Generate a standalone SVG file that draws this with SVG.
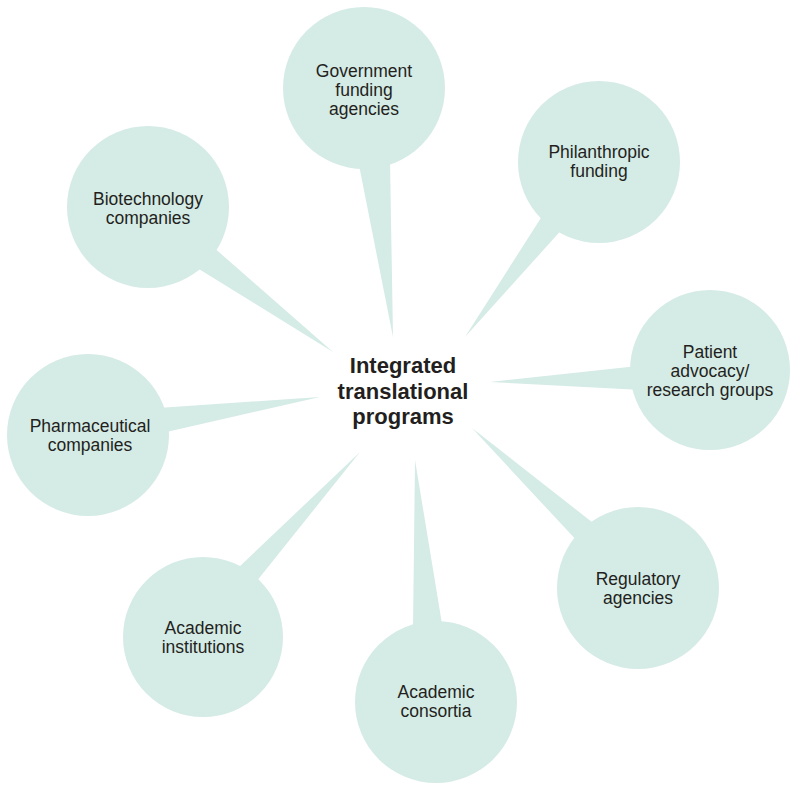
<svg xmlns="http://www.w3.org/2000/svg" width="800" height="793" viewBox="0 0 800 793">
<style>
.bub{fill:#d5ebe6;}
.lbl{font-family:"Liberation Sans",Arial,sans-serif;font-size:17.5px;fill:#231f20;text-anchor:middle;}
.ctr{font-family:"Liberation Sans",Arial,sans-serif;font-size:22px;font-weight:bold;fill:#231f20;text-anchor:middle;}
</style>
<rect width="800" height="793" fill="#ffffff"/>
<g id="connectors" class="bub">
<polygon points="393,337 358,160 390,160"/>
<polygon points="465,337 546,210 565,226"/>
<polygon points="333,352 212,246 194,266"/>
<polygon points="320,397 158,408 162,433"/>
<polygon points="490,382 638,366 642,390"/>
<polygon points="360,452 238,568 256,582"/>
<polygon points="415,460 413,630 443,630"/>
<polygon points="472,428 597,526 579,543"/>
</g>
<g id="government">
<circle class="bub" cx="364" cy="88" r="81"/>
<text class="lbl" x="364" y="77">Government</text>
<text class="lbl" x="364" y="96">funding</text>
<text class="lbl" x="364" y="115">agencies</text>
</g>
<g id="philanthropic">
<circle class="bub" cx="599" cy="162" r="81"/>
<text class="lbl" x="599" y="158">Philanthropic</text>
<text class="lbl" x="599" y="177">funding</text>
</g>
<g id="patient">
<circle class="bub" cx="710" cy="370" r="80"/>
<text class="lbl" x="710" y="358">Patient</text>
<text class="lbl" x="710" y="377">advocacy/</text>
<text class="lbl" x="710" y="396">research groups</text>
</g>
<g id="regulatory">
<circle class="bub" cx="638" cy="588" r="81"/>
<text class="lbl" x="638" y="585">Regulatory</text>
<text class="lbl" x="638" y="604">agencies</text>
</g>
<g id="consortia">
<circle class="bub" cx="436" cy="702" r="81"/>
<text class="lbl" x="436" y="698">Academic</text>
<text class="lbl" x="436" y="717">consortia</text>
</g>
<g id="institutions">
<circle class="bub" cx="203" cy="637" r="80"/>
<text class="lbl" x="203" y="634">Academic</text>
<text class="lbl" x="203" y="653">institutions</text>
</g>
<g id="pharmaceutical">
<circle class="bub" cx="88" cy="435" r="81"/>
<text class="lbl" x="90" y="432">Pharmaceutical</text>
<text class="lbl" x="90" y="451">companies</text>
</g>
<g id="biotechnology">
<circle class="bub" cx="148" cy="207" r="81"/>
<text class="lbl" x="148" y="205">Biotechnology</text>
<text class="lbl" x="148" y="224">companies</text>
</g>
<g id="center">
<text class="ctr" x="403" y="373">Integrated</text>
<text class="ctr" x="403" y="399">translational</text>
<text class="ctr" x="403" y="424">programs</text>
</g>
</svg>
